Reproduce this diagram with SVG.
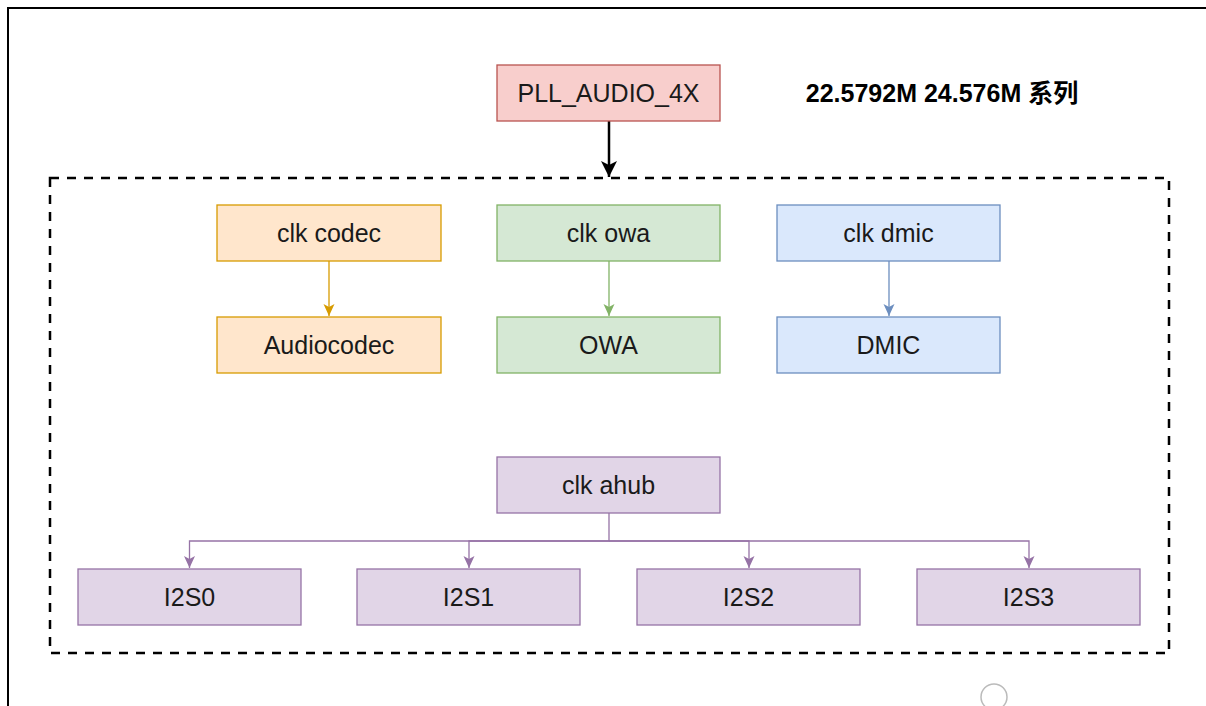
<svg xmlns="http://www.w3.org/2000/svg" width="1206" height="706" viewBox="0 0 1206 706">
<defs>
<style>
.t{font-family:"Liberation Sans",Arial,sans-serif;font-size:25px;fill:#1a1a1a;text-anchor:middle;dominant-baseline:central}
.red{fill:#f8cecc;stroke:#b85450;stroke-width:1.3}
.org{fill:#ffe6cc;stroke:#d79b00;stroke-width:1.3}
.grn{fill:#d5e8d4;stroke:#82b366;stroke-width:1.3}
.blu{fill:#dae8fc;stroke:#6c8ebf;stroke-width:1.3}
.pur{fill:#e1d5e7;stroke:#9673a6;stroke-width:1.3}
.c{fill:none;stroke-width:1.3}
</style>
<marker id="aBlk" markerUnits="userSpaceOnUse" markerWidth="20" markerHeight="20" refX="16" refY="8" orient="auto" viewBox="0 0 20 16"><path d="M0,0 L16,8 L0,16 L4,8 Z" fill="#000"/></marker>
<marker id="aOrg" markerUnits="userSpaceOnUse" markerWidth="14" markerHeight="12" refX="12" refY="5.5" orient="auto" viewBox="0 0 14 11"><path d="M0,0 L12,5.5 L0,11 L3,5.5 Z" fill="#d79b00"/></marker>
<marker id="aGrn" markerUnits="userSpaceOnUse" markerWidth="14" markerHeight="12" refX="12" refY="5.5" orient="auto" viewBox="0 0 14 11"><path d="M0,0 L12,5.5 L0,11 L3,5.5 Z" fill="#82b366"/></marker>
<marker id="aBlu" markerUnits="userSpaceOnUse" markerWidth="14" markerHeight="12" refX="12" refY="5.5" orient="auto" viewBox="0 0 14 11"><path d="M0,0 L12,5.5 L0,11 L3,5.5 Z" fill="#6c8ebf"/></marker>
<marker id="aPur" markerUnits="userSpaceOnUse" markerWidth="14" markerHeight="12" refX="12" refY="5.5" orient="auto" viewBox="0 0 14 11"><path d="M0,0 L12,5.5 L0,11 L3,5.5 Z" fill="#9673a6"/></marker>
</defs>
<rect width="1206" height="706" fill="#fff"/>
<path d="M8,706 V8 H1206" fill="none" stroke="#000" stroke-width="2"/>
<rect id="group" x="50" y="178" width="1119" height="475" fill="none" stroke="#000" stroke-width="2.5" stroke-dasharray="9 8"/>
<text x="942" y="93" style="font-family:'Liberation Sans','Noto Sans CJK SC',sans-serif;font-size:25px;font-weight:bold;fill:#000;text-anchor:middle;dominant-baseline:central">22.5792M 24.576M 系列</text>
<g id="connectors">
<path d="M609,121 V177" fill="none" stroke="#000" stroke-width="2.5" marker-end="url(#aBlk)"/>
<path class="c" d="M329,261 V316" stroke="#d79b00" marker-end="url(#aOrg)"/>
<path class="c" d="M609,261 V316" stroke="#82b366" marker-end="url(#aGrn)"/>
<path class="c" d="M889,261 V316" stroke="#6c8ebf" marker-end="url(#aBlu)"/>
<path class="c" d="M609,513 V541 H189.5 V568" stroke="#9673a6" marker-end="url(#aPur)"/>
<path class="c" d="M609,541 H469 V568" stroke="#9673a6" marker-end="url(#aPur)"/>
<path class="c" d="M609,541 H749 V568" stroke="#9673a6" marker-end="url(#aPur)"/>
<path class="c" d="M609,541 H1029 V568" stroke="#9673a6" marker-end="url(#aPur)"/>
</g>
<g id="pll"><rect class="red" x="497" y="65" width="223" height="56"/><text class="t" x="608.5" y="93">PLL_AUDIO_4X</text></g>
<g id="clkcodec"><rect class="org" x="217" y="205" width="224" height="56"/><text class="t" x="329" y="233">clk codec</text></g>
<g id="audiocodec"><rect class="org" x="217" y="317" width="224" height="56"/><text class="t" x="329" y="345">Audiocodec</text></g>
<g id="clkowa"><rect class="grn" x="497" y="205" width="223" height="56"/><text class="t" x="608.5" y="233">clk owa</text></g>
<g id="owa"><rect class="grn" x="497" y="317" width="223" height="56"/><text class="t" x="608.5" y="345">OWA</text></g>
<g id="clkdmic"><rect class="blu" x="777" y="205" width="223" height="56"/><text class="t" x="888.5" y="233">clk dmic</text></g>
<g id="dmic"><rect class="blu" x="777" y="317" width="223" height="56"/><text class="t" x="888.5" y="345">DMIC</text></g>
<g id="clkahub"><rect class="pur" x="497" y="457" width="223" height="56"/><text class="t" x="608.5" y="485">clk ahub</text></g>
<g id="i2s0"><rect class="pur" x="78" y="569" width="223" height="56"/><text class="t" x="189.5" y="597">I2S0</text></g>
<g id="i2s1"><rect class="pur" x="357" y="569" width="223" height="56"/><text class="t" x="468.5" y="597">I2S1</text></g>
<g id="i2s2"><rect class="pur" x="637" y="569" width="223" height="56"/><text class="t" x="748.5" y="597">I2S2</text></g>
<g id="i2s3"><rect class="pur" x="917" y="569" width="223" height="56"/><text class="t" x="1028.5" y="597">I2S3</text></g>
<circle cx="994" cy="697" r="13" fill="none" stroke="#bbb" stroke-width="1.5"/>
</svg>
